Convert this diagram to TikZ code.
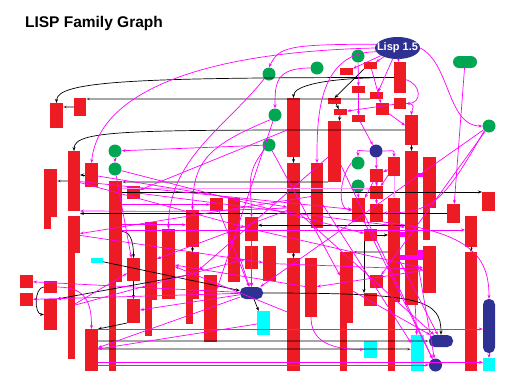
\documentclass[tikz,border=0pt]{standalone}
\usepackage{fontspec}
\setmainfont{Liberation Sans}
\usetikzlibrary{shapes.geometric,arrows.meta}
\definecolor{lred}{HTML}{ED1C24}
\definecolor{lgreen}{HTML}{00A651}
\definecolor{lnavy}{HTML}{2E3192}
\definecolor{lcyan}{HTML}{00FFFF}
\definecolor{lmag}{HTML}{FF00FF}

\begin{document}
\begin{tikzpicture}[x=1pt, y=-1pt,
		rbox/.style={fill=lred, inner sep=0, outer sep=0},
		cbox/.style={fill=lcyan, inner sep=0, outer sep=0},
		mbox/.style={fill=lmag, inner sep=0, outer sep=0},
		gdot/.style={circle, fill=lgreen, inner sep=0, minimum size=13},
		ndot/.style={circle, fill=lnavy, inner sep=0, minimum size=13},
		npill/.style={rounded corners=5.5, fill=lnavy, inner sep=0},
		medge/.style={draw=lmag, line width=0.7, -{Stealth[length=4pt,width=3pt]}},
		pedge/.style={draw=lmag!40, line width=0.9, -{Stealth[length=4pt,width=3pt]}},
		bedge/.style={draw=black, line width=0.7, -{Stealth[length=4pt,width=3pt]}},
		gedge/.style={draw=black, draw opacity=0.35, line width=2.4, -{Stealth[length=4pt,width=3pt]}}]
		\useasboundingbox (0,0) rectangle (517,389);
		\fill[white] (0,0) rectangle (517,389);
		\node[anchor=base west, font=\bfseries\fontsize{15.5}{18}\selectfont] (title) at (21.5,27.3) {LISP Family Graph};
		
		% red boxes: name/x/y/width/height
		\foreach \n/\x/\y/\w/\h in {r1/56.5/115.5/13/25, r2/80/107/12/18, r3/400/77.5/12/31,
			r4/370.5/65.5/13/7, r5/346.5/71.5/13/7, r6/358.5/89.5/13/7, r7/376.5/95.5/13/7,
			r8/334.5/101/13/6, r9/293.5/127.5/13/59, r10/400/103.5/12/11, r11/382.5/109/13/12,
			r12/340.5/112/13/6, r13/358.5/118.5/13/7, r14/334.5/151.5/13/61, r15/411.5/130/13/30,
			r16/74/181/12/60, r17/91.5/175/13/24, r18/50.5/193/13/48, r18b/47.5/223/7/12,
			r19/115.5/231.5/13/101, r19b/112.5/323/7/96, r20/133.5/192.5/13/13, r21/216.5/204.5/13/13,
			r22/234/240/12/84, r23/74/234.5/12/37, r23b/71.5/306/7/106, r24/192.5/228.5/13/37,
			r25/192.5/275.5/13/47, r25b/189.5/311.5/7/25, r26/151/261/12/78, r26b/148.5/318/7/36,
			r27/168.5/264/13/70, r28/251.5/229/13/24, r29/251.5/257.5/13/23, r30/269.5/263.5/13/35,
			r31/133.5/269.5/13/23, r32/133.5/311/13/24, r33/210.5/308.5/13/67, r34/26.5/281.5/13/13,
			r35/26.5/299.5/13/13, r36/50.5/287/13/12, r37/50.5/314.5/13/31, r38/91.5/350/13/42,
			r39/293.5/208/13/90, r40/293.5/314.5/13/113, r41/317/195.5/12/65, r42/394/166.5/12/19,
			r43/376.5/175.5/13/13, r44/376.5/192.5/13/13, r45/358.5/210/13/24, r46/376.5/213/13/18,
			r47/394/250/12/104, r47b/391.5/336.5/7/69, r48/411.5/228/13/154, r49/429.5/182.5/13/51,
			r49b/426.5/224/7/32, r49c/429.5/269.5/13/47, r50/488.5/201.5/13/19, r51/453.5/213.5/13/19,
			r52/471/231.5/12/31, r53/471/311.5/12/119, r54/370.5/235/13/12, r55/346.5/287.5/13/71,
			r55b/343.5/347/7/48, r56/311/287.5/12/59, r57/376.5/281.5/13/13, r58/370.5/299.5/13/13}
			\node[rbox, minimum width=\w, minimum height=\h] (\n) at (\x,\y) {};
		
		\foreach \n/\x/\y/\w/\h in {c1/97/260.5/12/5, c2/263.5/323/13/24, c3/370.5/349.5/13/17,
			c4/417.5/353/13/36, c5/489/364.5/12/13}
			\node[cbox, minimum width=\w, minimum height=\h] (\n) at (\x,\y) {};
		\foreach \n/\x/\y/\w/\h in {m1/420/175/6/4, m2/402.5/234.5/5/5, m3/411.5/257.5/23/5, m4/420/252.5/6/5}
			\node[mbox, minimum width=\w, minimum height=\h] (\n) at (\x,\y) {};
		
		\foreach \n/\x/\y in {g1/269/74, g2/317/68, g3/358/56, g4/275/115, g5/489/126,
			g6/115/151, g7/115/169, g8/269/145, g9/358/163, g10/358/186}
			\node[gdot] (\n) at (\x,\y) {};
		\node[rounded corners=6, fill=lgreen, minimum width=24, minimum height=12, inner sep=0] (gp) at (465,62) {};
		
		\node[ellipse, fill=lnavy, minimum width=45, minimum height=22, inner sep=0, text=white,
			font=\bfseries\fontsize{11}{13}\selectfont] (L) at (397.5,48) {\makebox[0pt]{Lisp 1.5}};
		\node[ndot] (n1) at (376,151) {};
		\node[ndot] (n2) at (435.5,365) {};
		\node[npill, minimum width=23, minimum height=12] (np1) at (251.5,293) {};
		\node[npill, minimum width=24, minimum height=12] (np2) at (441,341) {};
		\node[npill, minimum width=12, minimum height=54] (np3) at (489,326) {};
		
		% black and gray connectors
		\draw[bedge] (r3.west) .. controls +(-260,0) and +(0,-22) .. (r1.north);
		\draw[bedge] (r3.west) .. controls +(-70,0) and +(0,-12) .. (r9.north);
		\draw[bedge] (r15.west) .. controls +(-270,0) and +(0,-22) .. (r16.north);
		\draw[gedge] (r7.south west) -- (r7.south west -| r2.east);
		\draw[gedge] (r2.west) -- (r2.west -| r1.east);
		\draw[bedge] (r17.west) -- (r17.west -| r16.east);
		\draw[gedge] (r16.west) -- (r16.west -| r18.east);
		\draw[gedge] (r14.south west) -- (r14.south west -| r19.east);
		\draw[bedge] (r19.east |- r50.north west) -- (r50.north west);
		\draw[bedge] (r51.west) -- (r51.west -| r23.east);
		\draw[bedge] (r48.west |- r28.30) -- (r28.30);
		\draw[bedge] (r19.east) .. controls +(10,0) and +(0,-12) .. (r31.north);
		\draw[bedge] (r36.west) .. controls +(-10,0) and +(-10,0) .. (r37.west);
		\draw[bedge] (np1.east) .. controls +(160,0) and +(0,-35) .. (np2.north);
		\draw[bedge] (r4.south west) -- (r8.north);
		\draw[bedge] (r54.south west) -- (r58.north west);
		\draw[bedge] (r54.east) -- (r54.east -| r47.west);
		\draw[gedge] (r47.west |- r55.north east) -- (r55.north east);
		\draw[gedge] (r38.east |- np2.west) -- (np2.west);
		\draw[gedge] (r38.east |- c4.150) -- (c4.150);
		\foreach \a/\b in {r8/r12, r12/r14, r9/r39, r15/r48, r24/r25, r31/r32, c1/np1, np1/c2,
			r39/r40, r52/r53}
			\draw[bedge] (\a) -- (\b);
		\draw[bedge] (r25.west) -- (r37.north east);
		\draw[bedge] (r32.south west) -- (r38.north east);
		
		% magenta connectors
		\draw[medge] (L.west) .. controls +(-210,5) and +(5,-55) .. (r17.north);
		\draw[medge] (L.170) .. controls +(-90,0) and +(10,-20) .. (g1.north);
		\draw[medge] (L.190) .. controls +(-60,0) and +(0,-40) .. (r41.north);
		\draw[medge] (L.east) .. controls +(30,15) and +(-35,0) .. (g5.west);
		\draw[medge] (r3.-20) .. controls +(16,5) and +(16,0) .. (r10.east);
		\draw[medge] (r10.east) .. controls +(12,0) and +(0,-6) .. (r15.north);
		\draw[medge] (g2.west) .. controls +(-35,0) and +(0,-25) .. (g4.north);
		\draw[medge] (g1.south west) .. controls +(-40,50) and +(0,-70) .. (r27.north);
		\draw[medge] (g4.south west) .. controls +(-60,25) and +(0,-50) .. (r24.north);
		\draw[medge] (g8.south west) .. controls +(-20,25) and +(0,-30) .. (r28.north);
		\draw[medge] (n1.west) .. controls +(-15,0) and +(0,-8) .. (g9.north);
		\draw[medge] (n1.east) .. controls +(12,0) and +(0,-8) .. (r42.north);
		\draw[medge] (g9.west) .. controls +(-12,15) and +(-15,0) .. (r45.west);
		\draw[medge] (g5.south west) .. controls +(-40,70) and +(50,0) .. (r46.east);
		\draw[medge] (r46.south east) .. controls +(90,10) and +(0,-40) .. (np3.north);
		\draw[medge] (r39.west) .. controls +(-120,5) and +(60,0) .. (r16.south east);
		\draw[medge] (r36.east) .. controls +(30,0) and +(0,-25) .. (r38.north);
		\draw[medge] (r56.south) .. controls +(0,20) and +(-40,0) .. (c3.west);
		\draw[medge] (r19.east |- r21.west) -- (r21.west);
		\draw[pedge] (r19.east |- r44.150) -- (r44.150);
		\draw[medge] (r19.east |- r24.150) -- (r24.150);
		\draw[medge] (r19.east |- r52.165) -- (r52.165);
		\draw[medge] (r38.north east) -- (r38.north east -| np3.west);
		\draw[medge] (r38.east |- c5.160) -- (c5.160);
		\draw[medge] (r38.east |- n2.west) -- (n2.west);
		\foreach \a/\b in {L/r5, L/r4, L/r7, L/r3, g3/r6, r6/r13, r10/r12, r4/r11, r11/r15,
			gp/r51, g6/g7, g8/g6, g7/r54, g7/r31, r13/n1, n1/r43, r42/r43, r42/r44, r43/r44,
			r44/r46, g10/r45, r43/r45, g5/np1, g5/r57, r29/np1, r22/np1,
			r21/np1, r28/np1, np1/r34, np1/r35, np1/r38, np1/r32, c2/r38, r56/r27, r40/r27,
			r49c/r56, r30/r49c, r28/r49c, r55/np2, r47/np2, r48/n2, r45/n2, r39/np2, r14/n2,
			r41/c4, r48/c4, r23/r30, r23b/r31, r23b/r29, r39/r26, r17/r39, r16/r45, r16/r28,
			g8/r55, np3/c5, r9/r20, r41/r23, r14/r25, g4/r33, r20/r48}
			\draw[medge] (\a) -- (\b);
		\draw[pedge] (r42) -- (r47);
		\end{tikzpicture}
\end{document}
